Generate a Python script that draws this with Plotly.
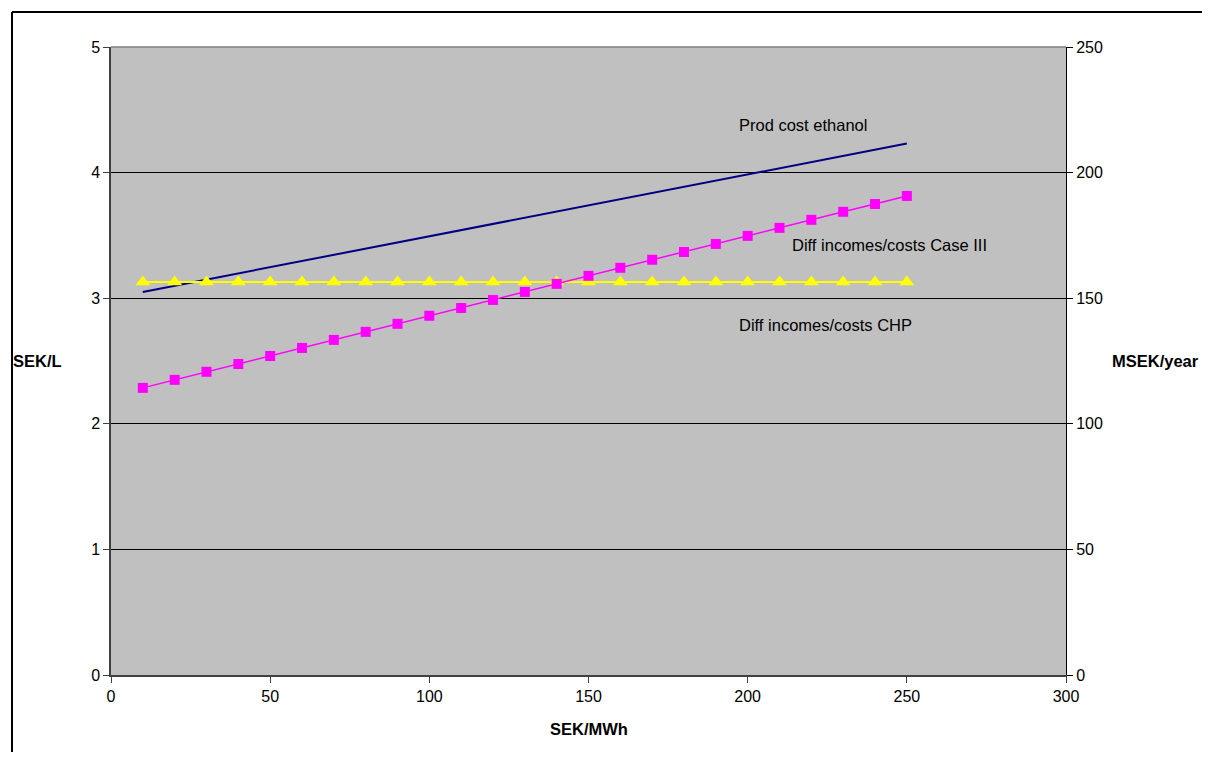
import plotly.graph_objects as go

x_vals = [10, 20, 30, 40, 50, 60, 70, 80, 90, 100, 110, 120, 130, 140, 150, 160, 170, 180, 190, 200, 210, 220, 230, 240, 250]
prod_cost_ethanol = [3.050, 3.099, 3.148, 3.198, 3.247, 3.296, 3.345, 3.394, 3.444, 3.493, 3.542, 3.591, 3.640,
                     3.690, 3.739, 3.788, 3.837, 3.886, 3.936, 3.985, 4.034, 4.083, 4.132, 4.182, 4.231]
diff_case3 = [114.3, 117.5, 120.7, 123.8, 127.0, 130.2, 133.4, 136.6, 139.8, 143.0, 146.1, 149.3, 152.5, 155.7, 158.9, 162.1, 165.3, 168.4, 171.6, 174.8, 178.0, 181.2, 184.4, 187.5, 190.7]
diff_chp = [156.4] * 25

# page has an 8px body margin; size figure so that it fits the 1210x760 window
W, H = 1202, 744
OFF = 8
PL, PR, PT, PB = 111, 1066, 47, 675  # plot area in page pixels
L = PL - OFF
T = PT - OFF
R = W - (PR - OFF)
B = H - (PB - OFF)
pw, ph = PR - PL, PB - PT

def px(xp):
    return (xp - PL) / pw

def py(yp):
    return (PB - yp) / ph

FAM = "Liberation Sans, Arial, sans-serif"
font = dict(family=FAM, size=16, color="black")
tfont = dict(family=FAM, size=16.5, color="black")

fig = go.Figure()
fig.add_trace(go.Scatter(x=x_vals, y=prod_cost_ethanol, mode="lines",
                         line=dict(color="#000080", width=2), name="Prod cost ethanol", yaxis="y"))
fig.add_trace(go.Scatter(x=x_vals, y=diff_chp, mode="lines+markers",
                         line=dict(color="#FFFF00", width=2),
                         marker=dict(symbol="triangle-up", size=13, color="#FFFF00"),
                         name="Diff incomes/costs CHP", yaxis="y2"))
fig.add_trace(go.Scatter(x=x_vals, y=diff_case3, mode="lines+markers",
                         line=dict(color="#FF00FF", width=1.5),
                         marker=dict(symbol="square", size=10, color="#FF00FF"),
                         name="Diff incomes/costs Case III", yaxis="y2"))

fig.update_layout(
    width=W, height=H,
    margin=dict(l=L, r=R, t=T, b=B, pad=0),
    paper_bgcolor="white",
    plot_bgcolor="#C0C0C0",
    showlegend=False,
    font=font,
    xaxis=dict(range=[0, 300], tickvals=[0, 50, 100, 150, 200, 250, 300],
               showgrid=False, zeroline=False, showline=True, linecolor="#404040", linewidth=1.5,
               ticks="outside", ticklen=6, tickcolor="#404040", tickfont=font, mirror=False),
    yaxis=dict(range=[0, 5], tickvals=[0, 1, 2, 3, 4, 5], showgrid=True, gridcolor="black", gridwidth=1,
               zeroline=False, showline=True, linecolor="#404040", linewidth=1.5,
               ticks="outside", ticklen=6, tickcolor="#404040", tickfont=font),
    yaxis2=dict(range=[0, 250], tickvals=[0, 50, 100, 150, 200, 250], overlaying="y", side="right",
                showgrid=False, zeroline=False, showline=True, linecolor="black", linewidth=1,
                ticks="outside", ticklen=6, tickcolor="black", tickfont=font),
)

# top border of plot area
fig.add_shape(type="line", xref="paper", yref="paper", x0=0, x1=1, y0=1, y1=1,
              line=dict(color="#808080", width=1.5))
# outer chart border: only the left and top edges are inside the picture
fig.add_shape(type="line", xref="paper", yref="paper", x0=px(12), x1=px(1400), y0=py(12), y1=py(12),
              line=dict(color="black", width=2), layer="above")
fig.add_shape(type="line", xref="paper", yref="paper", x0=px(12), x1=px(12), y0=py(900), y1=py(12),
              line=dict(color="black", width=2), layer="above")

bold = dict(family=FAM, size=16.5, color="black")
fig.add_annotation(text="<b>SEK/L</b>", xref="paper", yref="paper", x=px(37), y=py(361),
                   showarrow=False, font=bold, xanchor="center", yanchor="middle")
fig.add_annotation(text="<b>MSEK/year</b>", xref="paper", yref="paper", x=px(1155), y=py(361),
                   showarrow=False, font=bold, xanchor="center", yanchor="middle")
fig.add_annotation(text="<b>SEK/MWh</b>", xref="paper", yref="paper", x=px(589), y=py(729),
                   showarrow=False, font=bold, xanchor="center", yanchor="middle")

fig.add_annotation(text="Prod cost ethanol", x=217.4, y=4.38, xref="x", yref="y",
                   showarrow=False, font=tfont)
fig.add_annotation(text="Diff incomes/costs Case III", x=244.4, y=3.42, xref="x", yref="y",
                   showarrow=False, font=tfont)
fig.add_annotation(text="Diff incomes/costs CHP", x=224.3, y=2.79, xref="x", yref="y",
                   showarrow=False, font=tfont)

fig.write_html("out.html")
